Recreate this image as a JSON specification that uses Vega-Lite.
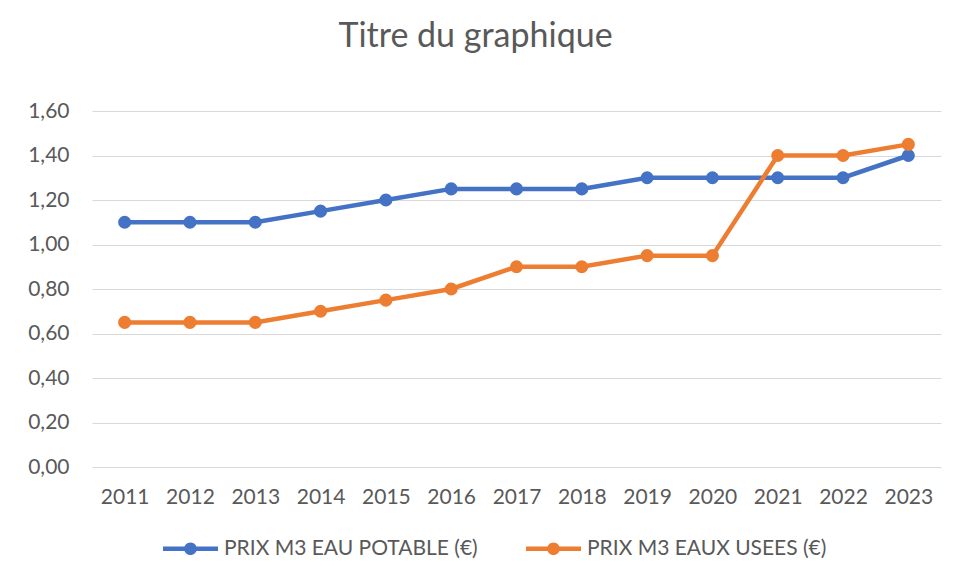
{
  "$schema": "https://vega.github.io/schema/vega-lite/v6.json",
  "width": 849,
  "height": 356,
  "autosize": {"type": "none"},
  "padding": {"left": 92, "top": 111, "right": 18, "bottom": 116},
  "background": "white",
  "config": {
    "font": "Lato",
    "view": {"stroke": null},
    "axis": {"labelColor": "#595959", "labelFont": "Lato", "labelFontSize": 21, "gridColor": "#D9D9D9", "gridWidth": 1.2, "domain": false, "ticks": false}
  },
  "title": {
    "text": "Titre du graphique",
    "fontSize": 34,
    "fontWeight": "normal",
    "color": "#595959",
    "font": "Lato",
    "anchor": "middle",
    "dx": -41,
    "offset": 46
  },
  "data": {
    "values": [
      {"annee": "2011", "serie": "PRIX M3 EAU POTABLE (€)", "prix": 1.10},
      {"annee": "2012", "serie": "PRIX M3 EAU POTABLE (€)", "prix": 1.10},
      {"annee": "2013", "serie": "PRIX M3 EAU POTABLE (€)", "prix": 1.10},
      {"annee": "2014", "serie": "PRIX M3 EAU POTABLE (€)", "prix": 1.15},
      {"annee": "2015", "serie": "PRIX M3 EAU POTABLE (€)", "prix": 1.20},
      {"annee": "2016", "serie": "PRIX M3 EAU POTABLE (€)", "prix": 1.25},
      {"annee": "2017", "serie": "PRIX M3 EAU POTABLE (€)", "prix": 1.25},
      {"annee": "2018", "serie": "PRIX M3 EAU POTABLE (€)", "prix": 1.25},
      {"annee": "2019", "serie": "PRIX M3 EAU POTABLE (€)", "prix": 1.30},
      {"annee": "2020", "serie": "PRIX M3 EAU POTABLE (€)", "prix": 1.30},
      {"annee": "2021", "serie": "PRIX M3 EAU POTABLE (€)", "prix": 1.30},
      {"annee": "2022", "serie": "PRIX M3 EAU POTABLE (€)", "prix": 1.30},
      {"annee": "2023", "serie": "PRIX M3 EAU POTABLE (€)", "prix": 1.40},
      {"annee": "2011", "serie": "PRIX M3 EAUX USEES (€)", "prix": 0.65},
      {"annee": "2012", "serie": "PRIX M3 EAUX USEES (€)", "prix": 0.65},
      {"annee": "2013", "serie": "PRIX M3 EAUX USEES (€)", "prix": 0.65},
      {"annee": "2014", "serie": "PRIX M3 EAUX USEES (€)", "prix": 0.70},
      {"annee": "2015", "serie": "PRIX M3 EAUX USEES (€)", "prix": 0.75},
      {"annee": "2016", "serie": "PRIX M3 EAUX USEES (€)", "prix": 0.80},
      {"annee": "2017", "serie": "PRIX M3 EAUX USEES (€)", "prix": 0.90},
      {"annee": "2018", "serie": "PRIX M3 EAUX USEES (€)", "prix": 0.90},
      {"annee": "2019", "serie": "PRIX M3 EAUX USEES (€)", "prix": 0.95},
      {"annee": "2020", "serie": "PRIX M3 EAUX USEES (€)", "prix": 0.95},
      {"annee": "2021", "serie": "PRIX M3 EAUX USEES (€)", "prix": 1.40},
      {"annee": "2022", "serie": "PRIX M3 EAUX USEES (€)", "prix": 1.40},
      {"annee": "2023", "serie": "PRIX M3 EAUX USEES (€)", "prix": 1.45}
    ]
  },
  "encoding": {
    "x": {
      "field": "annee",
      "type": "ordinal",
      "scale": {"type": "point", "padding": 0.5},
      "axis": {"title": null, "labelAngle": 0, "labelPadding": 19, "grid": false}
    },
    "y": {
      "field": "prix",
      "type": "quantitative",
      "scale": {"domain": [0, 1.6], "nice": false},
      "axis": {
        "title": null,
        "values": [0, 0.2, 0.4, 0.6, 0.8, 1.0, 1.2, 1.4, 1.6],
        "labelExpr": "replace(format(datum.value, '.2f'), '.', ',')",
        "labelPadding": 23,
        "grid": true
      }
    },
    "color": {
      "field": "serie",
      "type": "nominal",
      "scale": {"domain": ["PRIX M3 EAU POTABLE (€)", "PRIX M3 EAUX USEES (€)"], "range": ["#4472C4", "#ED7D31"]},
      "legend": {
        "title": null,
        "orient": "none",
        "direction": "horizontal",
        "legendX": 71,
        "legendY": 410,
        "symbolType": "M-1,-0.085L1,-0.085L1,0.085L-1,0.085Z M-0.23,0A0.23,0.23 0 1,1 0.23,0A0.23,0.23 0 1,1 -0.23,0Z",
        "symbolSize": 3025,
        "symbolStrokeWidth": 0,
        "symbolOpacity": 1,
        "labelFontSize": 21,
        "labelFont": "Lato",
        "labelColor": "#595959",
        "labelLimit": 500,
        "labelOffset": 6,
        "columnPadding": 48
      }
    }
  },
  "layer": [
    {"mark": {"type": "line", "strokeWidth": 4.5}},
    {"mark": {"type": "point", "filled": true, "opacity": 1, "size": 170}}
  ]
}
